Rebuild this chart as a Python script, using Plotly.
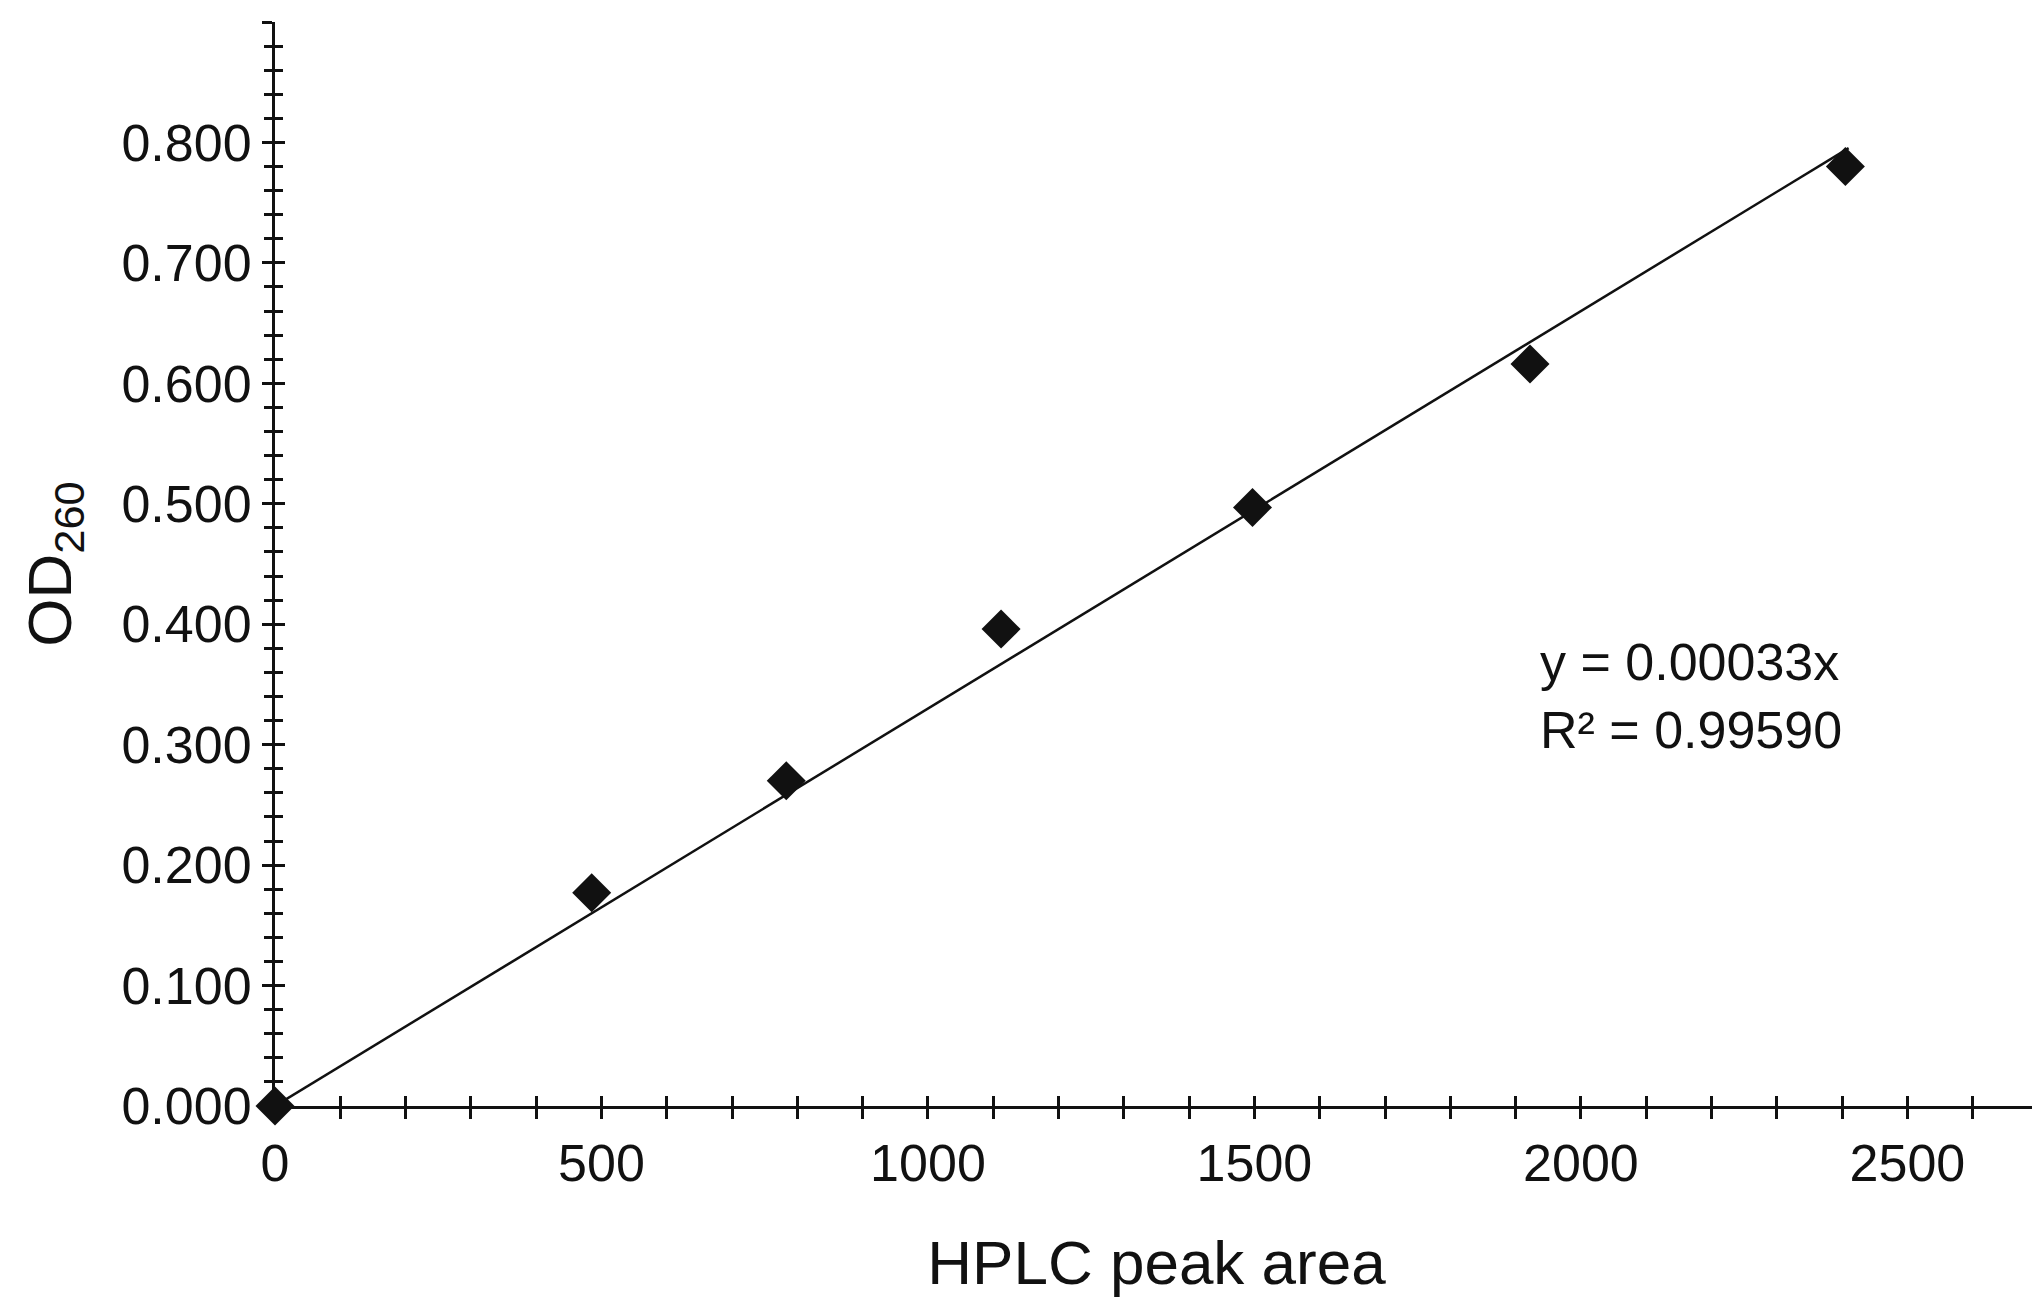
import plotly.graph_objects as go

# data
peak_area = [0, 485, 783, 1112, 1497, 1922, 2405]
od260 = [0.0, 0.177, 0.270, 0.396, 0.497, 0.616, 0.780]
slope = 0.00033
fit_x = [0, 2410]
fit_y = [slope * v for v in fit_x]

font = dict(family="Liberation Sans, Arial, sans-serif", size=52, color="#111")

fig = go.Figure()
fig.add_trace(go.Scatter(x=fit_x, y=fit_y, mode="lines", cliponaxis=False,
                         line=dict(color="#111", width=2.5), showlegend=False))
fig.add_trace(go.Scatter(x=peak_area, y=od260, mode="markers", cliponaxis=False,
                         marker=dict(symbol="diamond", size=30, color="#111"),
                         showlegend=False))

xrng = [0, 2700]
yrng = [0, 0.9]
axis_common = dict(showgrid=False, zeroline=False, showline=True,
                   linecolor="#111", linewidth=3, tickcolor="#111")

fig.update_layout(
    width=2040, height=1298,
    plot_bgcolor="white", paper_bgcolor="white",
    margin=dict(l=267, r=10, t=14, b=200),
    font=font,
    xaxis=dict(range=xrng, tickvals=[0, 500, 1000, 1500, 2000, 2500],
               ticks="outside", ticklen=10, tickwidth=3,
               minor=dict(dtick=100, ticks="outside", ticklen=10, tickwidth=3, tickcolor="#111"),
               title=dict(text="HPLC peak area", standoff=50),
               tickfont=font, **axis_common),
    yaxis=dict(range=yrng, dtick=0.1, tickformat=".3f",
               ticks="outside", ticklen=10, tickwidth=3,
               minor=dict(dtick=0.02, ticks="outside", ticklen=8, tickwidth=3, tickcolor="#111"),
               title=dict(text="OD<sub>260</sub>", standoff=30),
               tickfont=font, **axis_common),
    xaxis2=dict(range=xrng, overlaying="x", showticklabels=False,
                tickvals=[0, 500, 1000, 1500, 2000, 2500],
                ticks="inside", ticklen=10, tickwidth=3,
                minor=dict(dtick=100, ticks="inside", ticklen=10, tickwidth=3, tickcolor="#111"),
                **axis_common),
    yaxis2=dict(range=yrng, overlaying="y", showticklabels=False, dtick=0.1,
                ticks="inside", ticklen=10, tickwidth=3,
                minor=dict(dtick=0.02, ticks="inside", ticklen=8, tickwidth=3, tickcolor="#111"),
                **axis_common),
)
# invisible trace to activate the inner-tick axes
fig.add_trace(go.Scatter(x=[0], y=[0], xaxis="x2", yaxis="y2", mode="markers",
                         marker=dict(opacity=0), showlegend=False, hoverinfo="skip"))

fig.add_annotation(x=1935, y=0.34, xref="x", yref="y", xanchor="left",
                   showarrow=False, align="left", font=font,
                   text="y = 0.00033x<br>R² = 0.99590")

fig.write_html("out.html")
